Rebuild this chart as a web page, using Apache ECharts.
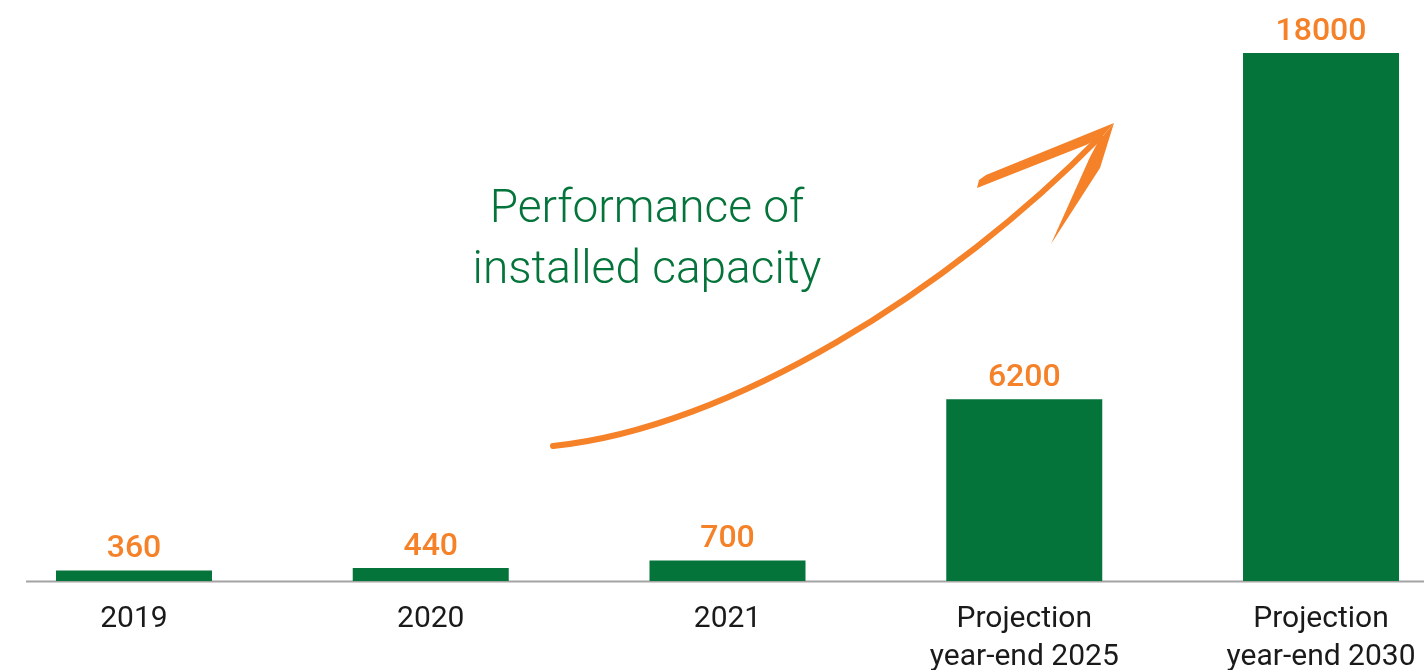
<!DOCTYPE html>
<html>
<head>
<meta charset="utf-8">
<script src="https://cdn.jsdelivr.net/npm/echarts@6/dist/echarts.min.js"></script>
<style>
  html, body { margin: 0; padding: 0; background: #fff; }
  #chart { width: 1424px; height: 670px; }
</style>
</head>
<body>
<div id="chart"></div>
<script>
// data
const categories = ['2019', '2020', '2021', 'Projection\nyear-end 2025', 'Projection\nyear-end 2030'];
const capacity = [360, 440, 700, 6200, 18000];
const titleLines = ['Performance of', 'installed capacity'];

const green = '#04743b';
const orange = '#f58128';

const chart = echarts.init(document.getElementById('chart'));

const option = {
  animation: false,
  grid: { left: -14.4, right: -45.4, top: 53, bottom: 89, outerBoundsMode: 'none', containLabel: false },
  xAxis: {
    type: 'category',
    data: categories,
    axisLine: { show: false },
    axisTick: { show: false },
    axisLabel: {
      margin: 19,
      color: '#1a1a1a',
      fontFamily: 'Roboto',
      fontSize: 30,
      lineHeight: 38
    }
  },
  yAxis: {
    type: 'value',
    min: 0,
    max: 18000,
    show: false,
    splitLine: { show: false }
  },
  series: [{
    type: 'bar',
    data: capacity,
    barWidth: 156,
    itemStyle: { color: green },
    label: {
      show: true,
      position: 'top',
      distance: 5,
      color: orange,
      fontFamily: 'Roboto',
      fontWeight: 500,
      fontSize: 32
    },
    z: 3
  }],
  graphic: [
    // baseline
    {
      type: 'line', z: 1,
      shape: { x1: 26, y1: 581.5, x2: 1424, y2: 581.5 },
      style: { stroke: '#a3a3a3', lineWidth: 2 }
    },
    // annotation text
    {
      type: 'text', z: 5,
      style: {
        text: titleLines.join('\n'),
        x: 647, y: 180,
        align: 'center',
        fill: green,
        font: '300 46px Roboto',
        lineHeight: 61
      }
    },
    // arrow shaft
    {
      type: 'bezierCurve', z: 5,
      shape: { x1: 553, y1: 446, cpx1: 730, cpy1: 428, cpx2: 950, cpy2: 290, x2: 1100, y2: 137 },
      style: { stroke: orange, lineWidth: 6, fill: null, lineCap: 'round' }
    },
    // arrow head: left barb
    {
      type: 'polygon', z: 5,
      shape: { points: [[977, 188], [979, 180], [986, 175], [1114, 123], [1102, 137], [1086, 145]] },
      style: { fill: orange }
    },
    // arrow head: right barb
    {
      type: 'polygon', z: 5,
      shape: { points: [[1114, 123], [1100, 168], [1051, 244], [1090, 157], [1098, 142]] },
      style: { fill: orange }
    }
  ]
};

chart.setOption(option);
</script>
</body>
</html>
